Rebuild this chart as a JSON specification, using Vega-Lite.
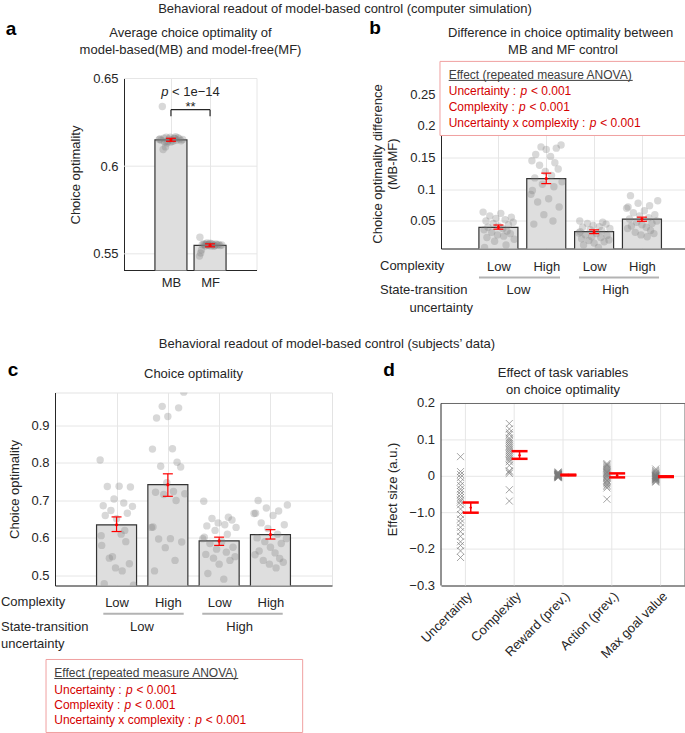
{
"$schema": "https://vega.github.io/schema/vega-lite/v6.json",
"autosize": {"type": "pad"},
"padding": {"left": 0, "top": 2.5, "right": 0, "bottom": 0},
"background": "white",
"config": {
  "font": "Liberation Sans",
  "view": {"stroke": null},
  "scale": {"continuousPadding": 0},
  "axis": {"labelFont": "Liberation Sans", "titleFont": "Liberation Sans", "labelFontSize": 13, "titleFontSize": 13, "titleFontWeight": "normal", "labelColor": "#262626", "titleColor": "#262626", "domainColor": "#262626", "gridColor": "#e6e6e6", "ticks": false, "labelPadding": 6, "titlePadding": 9, "labelFlush": false, "labelOverlap": false, "labelSeparation": 0, "zindex": 0},
  "text": {"font": "Liberation Sans", "fontSize": 13, "color": "#262626"}
},
"datasets": {
  "a_sum": [{"g": "MB", "x": 1, "m": 0.615, "lo": 0.6142, "hi": 0.6159}, {"g": "MF", "x": 2, "m": 0.5548, "lo": 0.554, "hi": 0.5557}],
  "a_pts": [
    {"g":"MB","x":0.78,"v":0.634},{"g":"MB","x":0.8,"v":0.6095},{"g":"MB","x":0.86,"v":0.611},{"g":"MB","x":0.72,"v":0.6155},{"g":"MB","x":0.75,"v":0.6148},{"g":"MB","x":0.82,"v":0.616},{"g":"MB","x":0.88,"v":0.6165},{"g":"MB","x":0.92,"v":0.6142},{"g":"MB","x":0.95,"v":0.6155},{"g":"MB","x":0.98,"v":0.6165},{"g":"MB","x":1.02,"v":0.615},{"g":"MB","x":1.05,"v":0.6142},{"g":"MB","x":1.08,"v":0.616},{"g":"MB","x":1.1,"v":0.6158},{"g":"MB","x":1.14,"v":0.6148},{"g":"MB","x":1.18,"v":0.6162},{"g":"MB","x":1.22,"v":0.6155},{"g":"MB","x":1.26,"v":0.6145},{"g":"MB","x":1.3,"v":0.6152},{"g":"MB","x":0.9,"v":0.6132},{"g":"MB","x":1.0,"v":0.6138},{"g":"MB","x":0.84,"v":0.6138},{"g":"MB","x":1.12,"v":0.6168},{"g":"MB","x":0.7,"v":0.6152},
    {"g":"MF","x":1.74,"v":0.5595},{"g":"MF","x":1.78,"v":0.5522},{"g":"MF","x":1.76,"v":0.5505},{"g":"MF","x":1.73,"v":0.5487},{"g":"MF","x":1.8,"v":0.5552},{"g":"MF","x":1.84,"v":0.5558},{"g":"MF","x":1.88,"v":0.5545},{"g":"MF","x":1.92,"v":0.5562},{"g":"MF","x":1.95,"v":0.555},{"g":"MF","x":1.98,"v":0.5555},{"g":"MF","x":2.02,"v":0.5545},{"g":"MF","x":2.05,"v":0.5558},{"g":"MF","x":2.08,"v":0.5552},{"g":"MF","x":2.12,"v":0.5548},{"g":"MF","x":2.15,"v":0.5556},{"g":"MF","x":2.18,"v":0.555},{"g":"MF","x":2.22,"v":0.5553},{"g":"MF","x":2.26,"v":0.5547},{"g":"MF","x":2.3,"v":0.555},{"g":"MF","x":1.86,"v":0.5552},{"g":"MF","x":1.9,"v":0.5555},{"g":"MF","x":2.0,"v":0.556},{"g":"MF","x":2.1,"v":0.5543},{"g":"MF","x":1.96,"v":0.5548}
  ],
  "a_brk": [{"x": 1, "x2": 2, "y": 0.6322, "y2": 0.6322}, {"x": 1, "x2": 1, "y": 0.6322, "y2": 0.6285}, {"x": 2, "x2": 2, "y": 0.6322, "y2": 0.6285}],
  "a_frame": [
    {"k": "light", "x": -0.2, "x2": 3.2, "y": 0.55, "y2": 0.55},
    {"k": "light", "x": -0.2, "x2": 3.2, "y": 0.6, "y2": 0.6},
    {"k": "light", "x": -0.2, "x2": 3.2, "y": 0.65, "y2": 0.65},
    {"k": "light", "x": 3.2, "x2": 3.2, "y": 0.5405, "y2": 0.65},
    {"k": "dark", "x": -0.2, "x2": 3.2, "y": 0.5405, "y2": 0.5405}
  ],
  "a_txt": [
    {"k": "p", "t": "p", "x": 0.751, "y": 0.6422},
    {"k": "n", "t": "< 1e−14", "x": 1.027, "y": 0.6422},
    {"k": "c", "t": "**", "x": 1.5, "y": 0.634},
    {"k": "c", "t": "Average choice optimality of", "x": 1.5, "y": 0.6757},
    {"k": "c", "t": "model-based(MB) and model-free(MF)", "x": 1.5, "y": 0.666},
    {"k": "letter", "t": "a", "x": -3.09, "y": 0.6785},
    {"k": "c", "t": "Behavioral readout of model-based control (computer simulation)", "x": 5.449, "y": 0.6894}
  ],
  "b_sum": [{"g": "LL", "x": 1, "m": 0.040, "lo": 0.037, "hi": 0.0436}, {"g": "LH", "x": 2, "m": 0.117, "lo": 0.109, "hi": 0.1255}, {"g": "HL", "x": 3, "m": 0.033, "lo": 0.030, "hi": 0.036}, {"g": "HH", "x": 4, "m": 0.053, "lo": 0.0495, "hi": 0.056}],
  "b_pts": [
    {"g":"LL","x":0.68,"v":0.064},{"g":"LL","x":1.05,"v":0.062},{"g":"LL","x":0.82,"v":0.058},{"g":"LL","x":1.27,"v":0.056},{"g":"LL","x":0.95,"v":0.054},{"g":"LL","x":1.14,"v":0.052},{"g":"LL","x":0.74,"v":0.05},{"g":"LL","x":1.31,"v":0.048},{"g":"LL","x":0.89,"v":0.046},{"g":"LL","x":1.21,"v":0.044},{"g":"LL","x":1.0,"v":0.042},{"g":"LL","x":0.78,"v":0.040},{"g":"LL","x":1.09,"v":0.038},{"g":"LL","x":0.7,"v":0.036},{"g":"LL","x":1.18,"v":0.034},{"g":"LL","x":0.86,"v":0.032},{"g":"LL","x":1.25,"v":0.030},{"g":"LL","x":0.98,"v":0.028},{"g":"LL","x":1.11,"v":0.026},{"g":"LL","x":0.76,"v":0.024},{"g":"LL","x":1.33,"v":0.021},{"g":"LL","x":0.92,"v":0.018},{"g":"LL","x":1.16,"v":0.012},{"g":"LL","x":0.71,"v":0.008},
    {"g":"LH","x":2.31,"v":0.170},{"g":"LH","x":1.89,"v":0.167},{"g":"LH","x":2.21,"v":0.165},{"g":"LH","x":2.0,"v":0.163},{"g":"LH","x":1.78,"v":0.155},{"g":"LH","x":2.09,"v":0.152},{"g":"LH","x":1.7,"v":0.145},{"g":"LH","x":2.18,"v":0.142},{"g":"LH","x":1.86,"v":0.138},{"g":"LH","x":2.25,"v":0.132},{"g":"LH","x":1.98,"v":0.128},{"g":"LH","x":2.11,"v":0.122},{"g":"LH","x":1.76,"v":0.118},{"g":"LH","x":2.33,"v":0.112},{"g":"LH","x":1.92,"v":0.108},{"g":"LH","x":2.16,"v":0.104},{"g":"LH","x":1.71,"v":0.098},{"g":"LH","x":1.68,"v":0.092},{"g":"LH","x":2.05,"v":0.085},{"g":"LH","x":1.82,"v":0.08},{"g":"LH","x":2.27,"v":0.072},{"g":"LH","x":1.95,"v":0.06},{"g":"LH","x":2.14,"v":0.05},{"g":"LH","x":1.74,"v":0.045},
    {"g":"HL","x":2.7,"v":0.05},{"g":"HL","x":3.18,"v":0.048},{"g":"HL","x":2.86,"v":0.046},{"g":"HL","x":3.25,"v":0.045},{"g":"HL","x":2.98,"v":0.043},{"g":"HL","x":3.11,"v":0.041},{"g":"HL","x":2.76,"v":0.04},{"g":"HL","x":3.33,"v":0.038},{"g":"HL","x":2.92,"v":0.036},{"g":"HL","x":3.16,"v":0.035},{"g":"HL","x":2.71,"v":0.033},{"g":"HL","x":2.68,"v":0.031},{"g":"HL","x":3.05,"v":0.03},{"g":"HL","x":2.82,"v":0.028},{"g":"HL","x":3.27,"v":0.027},{"g":"HL","x":2.95,"v":0.025},{"g":"HL","x":3.14,"v":0.024},{"g":"HL","x":2.74,"v":0.022},{"g":"HL","x":3.31,"v":0.02},{"g":"HL","x":2.89,"v":0.019},{"g":"HL","x":3.21,"v":0.017},{"g":"HL","x":3.0,"v":0.015},{"g":"HL","x":2.78,"v":0.012},{"g":"HL","x":3.09,"v":0.008},
    {"g":"HH","x":3.76,"v":0.09},{"g":"HH","x":4.33,"v":0.082},{"g":"HH","x":3.92,"v":0.078},{"g":"HH","x":4.16,"v":0.074},{"g":"HH","x":3.71,"v":0.072},{"g":"HH","x":3.68,"v":0.07},{"g":"HH","x":4.05,"v":0.066},{"g":"HH","x":3.82,"v":0.063},{"g":"HH","x":4.27,"v":0.06},{"g":"HH","x":3.95,"v":0.058},{"g":"HH","x":4.14,"v":0.055},{"g":"HH","x":3.74,"v":0.053},{"g":"HH","x":4.31,"v":0.05},{"g":"HH","x":3.89,"v":0.048},{"g":"HH","x":4.21,"v":0.046},{"g":"HH","x":4.0,"v":0.044},{"g":"HH","x":3.78,"v":0.042},{"g":"HH","x":4.09,"v":0.04},{"g":"HH","x":3.7,"v":0.038},{"g":"HH","x":4.18,"v":0.035},{"g":"HH","x":3.86,"v":0.032},{"g":"HH","x":4.25,"v":0.03},{"g":"HH","x":3.98,"v":0.028},{"g":"HH","x":4.11,"v":0.025}
  ],
  "b_txt": [
    {"k": "row", "t": "Complexity", "x": -1.475, "y": -0.0219},
    {"k": "row", "t": "State-transition", "x": -1.475, "y": -0.0598},
    {"k": "rowr", "t": "uncertainty", "x": 0.469, "y": -0.0867},
    {"k": "unc", "t": "Low", "x": 1.42, "y": -0.0598},
    {"k": "unc", "t": "High", "x": 3.45, "y": -0.0598},
    {"k": "unc", "t": "Difference in choice optimality between", "x": 2.3, "y": 0.3462},
    {"k": "unc", "t": "MB and MF control", "x": 2.35, "y": 0.3193},
    {"k": "hdr", "t": "Effect (repeated measure ANOVA)", "x": -0.039, "y": 0.2798},
    {"k": "redr", "t": "Uncertainty :", "x": 1.37, "y": 0.2545},
    {"k": "redp", "t": "p", "x": 1.46, "y": 0.2545},
    {"k": "red", "t": "< 0.001", "x": 1.679, "y": 0.2545},
    {"k": "redr", "t": "Complexity :", "x": 1.341, "y": 0.2293},
    {"k": "redp", "t": "p", "x": 1.43, "y": 0.2293},
    {"k": "red", "t": "< 0.001", "x": 1.65, "y": 0.2293},
    {"k": "redr", "t": "Uncertainty x complexity :", "x": 2.818, "y": 0.204},
    {"k": "redp", "t": "p", "x": 2.908, "y": 0.204},
    {"k": "red", "t": "< 0.001", "x": 3.128, "y": 0.204},
    {"k": "letter", "t": "b", "x": -1.58, "y": 0.354}
  ],
  "b_box": [{"x": -0.221, "x2": 4.9, "y": 0.302, "y2": 0.185}],
  "b_lines": [{"k": "grp", "x": 0.594, "x2": 2.287, "y": -0.0393}, {"k": "grp", "x": 2.685, "x2": 4.357, "y": -0.0393}, {"k": "ul", "x": -0.039, "x2": 3.807, "y": 0.272}],
  "c_sum": [{"g": "LL", "x": 1, "m": 0.635, "lo": 0.617, "hi": 0.656}, {"g": "LH", "x": 2, "m": 0.742, "lo": 0.711, "hi": 0.771}, {"g": "HL", "x": 3, "m": 0.592, "lo": 0.580, "hi": 0.602}, {"g": "HH", "x": 4, "m": 0.609, "lo": 0.597, "hi": 0.622}],
  "c_pts": [
    {"g":"LL","x":0.68,"v":0.808},{"g":"LL","x":1.05,"v":0.738},{"g":"LL","x":0.82,"v":0.737},{"g":"LL","x":1.27,"v":0.736},{"g":"LL","x":0.95,"v":0.704},{"g":"LL","x":1.14,"v":0.693},{"g":"LL","x":0.74,"v":0.686},{"g":"LL","x":1.31,"v":0.684},{"g":"LL","x":0.89,"v":0.673},{"g":"LL","x":1.21,"v":0.666},{"g":"LL","x":1.0,"v":0.651},{"g":"LL","x":0.78,"v":0.66},{"g":"LL","x":1.09,"v":0.61},{"g":"LL","x":0.7,"v":0.606},{"g":"LL","x":1.18,"v":0.59},{"g":"LL","x":0.86,"v":0.546},{"g":"LL","x":1.25,"v":0.531},{"g":"LL","x":0.98,"v":0.52},{"g":"LL","x":1.11,"v":0.512},{"g":"LL","x":0.76,"v":0.478},{"g":"LL","x":1.33,"v":0.474},{"g":"LL","x":0.92,"v":0.55},{"g":"LL","x":1.16,"v":0.62},{"g":"LL","x":0.71,"v":0.58},
    {"g":"LH","x":2.31,"v":0.989},{"g":"LH","x":1.89,"v":0.951},{"g":"LH","x":2.21,"v":0.947},{"g":"LH","x":2.0,"v":0.924},{"g":"LH","x":1.78,"v":0.92},{"g":"LH","x":2.09,"v":0.838},{"g":"LH","x":1.7,"v":0.837},{"g":"LH","x":2.18,"v":0.802},{"g":"LH","x":1.86,"v":0.791},{"g":"LH","x":2.25,"v":0.789},{"g":"LH","x":1.98,"v":0.747},{"g":"LH","x":2.11,"v":0.724},{"g":"LH","x":1.76,"v":0.722},{"g":"LH","x":2.33,"v":0.718},{"g":"LH","x":1.92,"v":0.716},{"g":"LH","x":2.16,"v":0.70},{"g":"LH","x":1.71,"v":0.629},{"g":"LH","x":1.68,"v":0.628},{"g":"LH","x":2.05,"v":0.598},{"g":"LH","x":1.82,"v":0.597},{"g":"LH","x":2.27,"v":0.589},{"g":"LH","x":1.95,"v":0.574},{"g":"LH","x":2.14,"v":0.54},{"g":"LH","x":1.74,"v":0.512},
    {"g":"HL","x":2.7,"v":0.698},{"g":"HL","x":3.18,"v":0.655},{"g":"HL","x":2.86,"v":0.652},{"g":"HL","x":3.25,"v":0.648},{"g":"HL","x":2.98,"v":0.64},{"g":"HL","x":3.11,"v":0.635},{"g":"HL","x":2.76,"v":0.632},{"g":"HL","x":3.33,"v":0.628},{"g":"HL","x":2.92,"v":0.62},{"g":"HL","x":3.16,"v":0.61},{"g":"HL","x":2.71,"v":0.602},{"g":"HL","x":2.68,"v":0.598},{"g":"HL","x":3.05,"v":0.59},{"g":"HL","x":2.82,"v":0.585},{"g":"HL","x":3.27,"v":0.575},{"g":"HL","x":2.95,"v":0.57},{"g":"HL","x":3.14,"v":0.562},{"g":"HL","x":2.74,"v":0.556},{"g":"HL","x":3.31,"v":0.55},{"g":"HL","x":2.89,"v":0.546},{"g":"HL","x":3.21,"v":0.54},{"g":"HL","x":3.0,"v":0.53},{"g":"HL","x":2.78,"v":0.505},{"g":"HL","x":3.09,"v":0.49},
    {"g":"HH","x":3.76,"v":0.70},{"g":"HH","x":4.33,"v":0.688},{"g":"HH","x":3.92,"v":0.68},{"g":"HH","x":4.16,"v":0.672},{"g":"HH","x":3.71,"v":0.666},{"g":"HH","x":3.68,"v":0.665},{"g":"HH","x":4.05,"v":0.66},{"g":"HH","x":3.82,"v":0.64},{"g":"HH","x":4.27,"v":0.635},{"g":"HH","x":3.95,"v":0.625},{"g":"HH","x":4.14,"v":0.61},{"g":"HH","x":3.74,"v":0.60},{"g":"HH","x":4.31,"v":0.598},{"g":"HH","x":3.89,"v":0.59},{"g":"HH","x":4.21,"v":0.585},{"g":"HH","x":4.0,"v":0.575},{"g":"HH","x":3.78,"v":0.565},{"g":"HH","x":4.09,"v":0.56},{"g":"HH","x":3.7,"v":0.555},{"g":"HH","x":4.18,"v":0.545},{"g":"HH","x":3.86,"v":0.54},{"g":"HH","x":4.25,"v":0.535},{"g":"HH","x":3.98,"v":0.53},{"g":"HH","x":4.11,"v":0.52}
  ],
  "c_txt": [
    {"k": "row", "t": "Complexity", "x": -1.253, "y": 0.4284},
    {"k": "row", "t": "State-transition", "x": -1.253, "y": 0.3617},
    {"k": "row", "t": "uncertainty", "x": -1.253, "y": 0.3174},
    {"k": "unc", "t": "Low", "x": 1.496, "y": 0.3617},
    {"k": "unc", "t": "High", "x": 3.40, "y": 0.3617},
    {"k": "unc", "t": "Choice optimality", "x": 2.5, "y": 1.0386},
    {"k": "unc", "t": "Behavioral readout of model-based control (subjects’ data)", "x": 5.102, "y": 1.1187},
    {"k": "hdr", "t": "Effect (repeated measure ANOVA)", "x": -0.214, "y": 0.239},
    {"k": "redr", "t": "Uncertainty :", "x": 1.1, "y": 0.1947},
    {"k": "redp", "t": "p", "x": 1.184, "y": 0.1947},
    {"k": "red", "t": "< 0.001", "x": 1.389, "y": 0.1947},
    {"k": "redr", "t": "Complexity :", "x": 1.073, "y": 0.1528},
    {"k": "redp", "t": "p", "x": 1.157, "y": 0.1528},
    {"k": "red", "t": "< 0.001", "x": 1.361, "y": 0.1528},
    {"k": "redr", "t": "Uncertainty x complexity :", "x": 2.451, "y": 0.1128},
    {"k": "redp", "t": "p", "x": 2.535, "y": 0.1128},
    {"k": "red", "t": "< 0.001", "x": 2.74, "y": 0.1128},
    {"k": "letter", "t": "c", "x": -1.019, "y": 1.047}
  ],
  "c_box": [{"x": -0.375, "x2": 4.628, "y": 0.2756, "y2": 0.0808}],
  "c_lines": [{"k": "grp", "x": 0.742, "x2": 2.309, "y": 0.3975}, {"k": "grp", "x": 2.671, "x2": 4.239, "y": 0.3975}, {"k": "ul", "x": -0.214, "x2": 3.373, "y": 0.2249}],
  "d_pts": [
    {"var":"Uncertainty","x":0.9,"v":0.054},{"var":"Uncertainty","x":0.9,"v":0.013},{"var":"Uncertainty","x":0.9,"v":0.005},{"var":"Uncertainty","x":0.9,"v":-0.003},{"var":"Uncertainty","x":0.9,"v":-0.015},{"var":"Uncertainty","x":0.9,"v":-0.025},{"var":"Uncertainty","x":0.9,"v":-0.035},{"var":"Uncertainty","x":0.9,"v":-0.042},{"var":"Uncertainty","x":0.9,"v":-0.05},{"var":"Uncertainty","x":0.9,"v":-0.058},{"var":"Uncertainty","x":0.9,"v":-0.065},{"var":"Uncertainty","x":0.9,"v":-0.07},{"var":"Uncertainty","x":0.9,"v":-0.078},{"var":"Uncertainty","x":0.9,"v":-0.09},{"var":"Uncertainty","x":0.9,"v":-0.105},{"var":"Uncertainty","x":0.9,"v":-0.118},{"var":"Uncertainty","x":0.9,"v":-0.128},{"var":"Uncertainty","x":0.9,"v":-0.14},{"var":"Uncertainty","x":0.9,"v":-0.152},{"var":"Uncertainty","x":0.9,"v":-0.165},{"var":"Uncertainty","x":0.9,"v":-0.18},{"var":"Uncertainty","x":0.9,"v":-0.19},{"var":"Uncertainty","x":0.9,"v":-0.205},{"var":"Uncertainty","x":0.9,"v":-0.223},
    {"var":"Complexity","x":1.9,"v":0.145},{"var":"Complexity","x":1.9,"v":0.13},{"var":"Complexity","x":1.9,"v":0.12},{"var":"Complexity","x":1.9,"v":0.115},{"var":"Complexity","x":1.9,"v":0.105},{"var":"Complexity","x":1.9,"v":0.1},{"var":"Complexity","x":1.9,"v":0.095},{"var":"Complexity","x":1.9,"v":0.09},{"var":"Complexity","x":1.9,"v":0.085},{"var":"Complexity","x":1.9,"v":0.08},{"var":"Complexity","x":1.9,"v":0.075},{"var":"Complexity","x":1.9,"v":0.07},{"var":"Complexity","x":1.9,"v":0.065},{"var":"Complexity","x":1.9,"v":0.06},{"var":"Complexity","x":1.9,"v":0.055},{"var":"Complexity","x":1.9,"v":0.05},{"var":"Complexity","x":1.9,"v":0.045},{"var":"Complexity","x":1.9,"v":0.04},{"var":"Complexity","x":1.9,"v":0.03},{"var":"Complexity","x":1.9,"v":0.015},{"var":"Complexity","x":1.9,"v":0.012},{"var":"Complexity","x":1.9,"v":0.008},{"var":"Complexity","x":1.9,"v":-0.037},{"var":"Complexity","x":1.9,"v":-0.068},
    {"var":"Reward (prev.)","x":2.9,"v":0.012},{"var":"Reward (prev.)","x":2.9,"v":0.01},{"var":"Reward (prev.)","x":2.9,"v":0.009},{"var":"Reward (prev.)","x":2.9,"v":0.008},{"var":"Reward (prev.)","x":2.9,"v":0.007},{"var":"Reward (prev.)","x":2.9,"v":0.006},{"var":"Reward (prev.)","x":2.9,"v":0.0055},{"var":"Reward (prev.)","x":2.9,"v":0.005},{"var":"Reward (prev.)","x":2.9,"v":0.0045},{"var":"Reward (prev.)","x":2.9,"v":0.004},{"var":"Reward (prev.)","x":2.9,"v":0.0035},{"var":"Reward (prev.)","x":2.9,"v":0.003},{"var":"Reward (prev.)","x":2.9,"v":0.0025},{"var":"Reward (prev.)","x":2.9,"v":0.002},{"var":"Reward (prev.)","x":2.9,"v":0.0015},{"var":"Reward (prev.)","x":2.9,"v":0.001},{"var":"Reward (prev.)","x":2.9,"v":0.0005},{"var":"Reward (prev.)","x":2.9,"v":0.0},{"var":"Reward (prev.)","x":2.9,"v":-0.0005},{"var":"Reward (prev.)","x":2.9,"v":-0.001},{"var":"Reward (prev.)","x":2.9,"v":-0.0015},{"var":"Reward (prev.)","x":2.9,"v":-0.002},{"var":"Reward (prev.)","x":2.9,"v":-0.003},{"var":"Reward (prev.)","x":2.9,"v":-0.004},
    {"var":"Action (prev.)","x":3.9,"v":0.035},{"var":"Action (prev.)","x":3.9,"v":0.032},{"var":"Action (prev.)","x":3.9,"v":0.03},{"var":"Action (prev.)","x":3.9,"v":0.027},{"var":"Action (prev.)","x":3.9,"v":0.024},{"var":"Action (prev.)","x":3.9,"v":0.021},{"var":"Action (prev.)","x":3.9,"v":0.018},{"var":"Action (prev.)","x":3.9,"v":0.015},{"var":"Action (prev.)","x":3.9,"v":0.012},{"var":"Action (prev.)","x":3.9,"v":0.01},{"var":"Action (prev.)","x":3.9,"v":0.008},{"var":"Action (prev.)","x":3.9,"v":0.005},{"var":"Action (prev.)","x":3.9,"v":0.003},{"var":"Action (prev.)","x":3.9,"v":0.0},{"var":"Action (prev.)","x":3.9,"v":-0.003},{"var":"Action (prev.)","x":3.9,"v":-0.006},{"var":"Action (prev.)","x":3.9,"v":-0.01},{"var":"Action (prev.)","x":3.9,"v":-0.013},{"var":"Action (prev.)","x":3.9,"v":-0.017},{"var":"Action (prev.)","x":3.9,"v":-0.02},{"var":"Action (prev.)","x":3.9,"v":-0.024},{"var":"Action (prev.)","x":3.9,"v":-0.028},{"var":"Action (prev.)","x":3.9,"v":-0.032},{"var":"Action (prev.)","x":3.9,"v":-0.063},
    {"var":"Max goal value","x":4.9,"v":0.02},{"var":"Max goal value","x":4.9,"v":0.016},{"var":"Max goal value","x":4.9,"v":0.013},{"var":"Max goal value","x":4.9,"v":0.01},{"var":"Max goal value","x":4.9,"v":0.008},{"var":"Max goal value","x":4.9,"v":0.006},{"var":"Max goal value","x":4.9,"v":0.004},{"var":"Max goal value","x":4.9,"v":0.003},{"var":"Max goal value","x":4.9,"v":0.002},{"var":"Max goal value","x":4.9,"v":0.001},{"var":"Max goal value","x":4.9,"v":0.0},{"var":"Max goal value","x":4.9,"v":-0.001},{"var":"Max goal value","x":4.9,"v":-0.002},{"var":"Max goal value","x":4.9,"v":-0.003},{"var":"Max goal value","x":4.9,"v":-0.004},{"var":"Max goal value","x":4.9,"v":-0.005},{"var":"Max goal value","x":4.9,"v":-0.006},{"var":"Max goal value","x":4.9,"v":-0.007},{"var":"Max goal value","x":4.9,"v":-0.008},{"var":"Max goal value","x":4.9,"v":-0.009},{"var":"Max goal value","x":4.9,"v":-0.01},{"var":"Max goal value","x":4.9,"v":-0.012},{"var":"Max goal value","x":4.9,"v":-0.014},{"var":"Max goal value","x":4.9,"v":-0.016}
  ],
  "d_sum": [{"var": "Uncertainty", "x": 1.11, "m": -0.086, "lo": -0.1, "hi": -0.072}, {"var": "Complexity", "x": 2.11, "m": 0.058, "lo": 0.048, "hi": 0.069}, {"var": "Reward (prev.)", "x": 3.11, "m": 0.0035, "lo": 0.0025, "hi": 0.0045}, {"var": "Action (prev.)", "x": 4.11, "m": 0.003, "lo": -0.003, "hi": 0.008}, {"var": "Max goal value", "x": 5.11, "m": -0.001, "lo": -0.002, "hi": 0.0}],
  "d_frame": [
    {"k": "grid", "x": 1, "x2": 1, "y": -0.3, "y2": 0.2}, {"k": "grid", "x": 2, "x2": 2, "y": -0.3, "y2": 0.2}, {"k": "grid", "x": 3, "x2": 3, "y": -0.3, "y2": 0.2}, {"k": "grid", "x": 4, "x2": 4, "y": -0.3, "y2": 0.2}, {"k": "grid", "x": 5, "x2": 5, "y": -0.3, "y2": 0.2},
    {"k": "grid", "x": 0.5, "x2": 5.5, "y": 0.1, "y2": 0.1}, {"k": "grid", "x": 0.5, "x2": 5.5, "y": 0, "y2": 0}, {"k": "grid", "x": 0.5, "x2": 5.5, "y": -0.1, "y2": -0.1}, {"k": "grid", "x": 0.5, "x2": 5.5, "y": -0.2, "y2": -0.2},
    {"k": "box", "x": 0.5, "x2": 5.5, "y": 0.2, "y2": 0.2}, {"k": "box", "x": 5.5, "x2": 5.5, "y": -0.3, "y2": 0.2},
    {"k": "axis", "x": 0.5, "x2": 0.5, "y": -0.3, "y2": 0.2}
  ],
  "d_ylab": [{"t": "0.2", "y": 0.2}, {"t": "0.1", "y": 0.1}, {"t": "0", "y": 0}, {"t": "−1.0", "y": -0.1}, {"t": "−0.2", "y": -0.2}, {"t": "−0.3", "y": -0.3}],
  "d_txt": [
    {"k": "letter", "t": "d", "x": -0.566, "y": 0.2907},
    {"k": "c", "t": "Effect of task variables", "x": 3.0, "y": 0.2824},
    {"k": "c", "t": "on choice optimality", "x": 3.0, "y": 0.2357}
  ]
},
"bounds": "flush",
"columns": 2,
"spacing": {"row": 122, "column": 109},
"concat": [
  {
    "width": 202, "height": 192,
    "layer": [
      {"data": {"name": "a_frame"}, "transform": [{"filter": "datum.k == 'light'"}], "mark": {"type": "rule", "color": "#e6e6e6", "strokeWidth": 1},
       "encoding": {
         "x": {"field": "x", "type": "quantitative", "scale": {"domain": [-1.964, 3.2], "nice": false, "zero": false, "padding": 0}, "axis": {"values": [1, 2], "labelExpr": "datum.value == 1 ? 'MB' : 'MF'", "title": null, "grid": true, "domain": false, "labelPadding": 6}},
         "x2": {"field": "x2"},
         "y": {"field": "y", "type": "quantitative", "scale": {"domain": [0.5405, 0.65], "nice": false, "zero": false, "padding": 0}, "axis": {"values": [0.55, 0.6, 0.65], "format": "~g", "title": "Choice optimality", "grid": false, "offset": -69, "titlePadding": 10}},
         "y2": {"field": "y2"}}},
      {"data": {"name": "a_frame"}, "transform": [{"filter": "datum.k == 'dark'"}], "mark": {"type": "rule", "color": "#262626", "strokeWidth": 1},
       "encoding": {"x": {"field": "x", "type": "quantitative"}, "x2": {"field": "x2"}, "y": {"field": "y", "type": "quantitative"}, "y2": {"field": "y2"}}},
      {"data": {"name": "a_sum"}, "mark": {"type": "bar", "size": 32, "fill": "#dedede", "stroke": "#333333", "strokeWidth": 1.2, "opacity": 1, "clip": true},
       "encoding": {"x": {"field": "x", "type": "quantitative"}, "y": {"field": "m", "type": "quantitative"}}},
      {"data": {"name": "a_pts"}, "mark": {"type": "circle", "size": 55, "color": "#7f7f7f", "opacity": 0.3, "clip": true},
       "encoding": {"x": {"field": "x", "type": "quantitative"}, "y": {"field": "v", "type": "quantitative"}}},
      {"data": {"name": "a_sum"}, "mark": {"type": "rule", "color": "#ff0000", "strokeWidth": 1.2},
       "encoding": {"x": {"field": "x", "type": "quantitative"}, "y": {"field": "lo", "type": "quantitative"}, "y2": {"field": "hi"}}},
      {"data": {"name": "a_sum"}, "mark": {"type": "tick", "orient": "horizontal", "color": "#ff0000", "size": 10, "thickness": 1.2, "opacity": 1},
       "encoding": {"x": {"field": "x", "type": "quantitative"}, "y": {"field": "lo", "type": "quantitative"}}},
      {"data": {"name": "a_sum"}, "mark": {"type": "tick", "orient": "horizontal", "color": "#ff0000", "size": 10, "thickness": 1.2, "opacity": 1},
       "encoding": {"x": {"field": "x", "type": "quantitative"}, "y": {"field": "hi", "type": "quantitative"}}},
      {"data": {"name": "a_sum"}, "mark": {"type": "circle", "color": "#ff0000", "size": 10, "opacity": 1},
       "encoding": {"x": {"field": "x", "type": "quantitative"}, "y": {"field": "m", "type": "quantitative"}}},
      {"data": {"name": "a_brk"}, "mark": {"type": "rule", "color": "#262626", "strokeWidth": 1.2},
       "encoding": {"x": {"field": "x", "type": "quantitative"}, "x2": {"field": "x2"}, "y": {"field": "y", "type": "quantitative"}, "y2": {"field": "y2"}}},
      {"data": {"name": "a_txt"}, "transform": [{"filter": "datum.k == 'p'"}], "mark": {"type": "text", "fontStyle": "italic", "align": "left", "baseline": "middle"},
       "encoding": {"x": {"field": "x", "type": "quantitative"}, "y": {"field": "y", "type": "quantitative"}, "text": {"field": "t"}}},
      {"data": {"name": "a_txt"}, "transform": [{"filter": "datum.k == 'n'"}], "mark": {"type": "text", "align": "left", "baseline": "middle"},
       "encoding": {"x": {"field": "x", "type": "quantitative"}, "y": {"field": "y", "type": "quantitative"}, "text": {"field": "t"}}},
      {"data": {"name": "a_txt"}, "transform": [{"filter": "datum.k == 'c'"}], "mark": {"type": "text", "align": "center", "baseline": "middle"},
       "encoding": {"x": {"field": "x", "type": "quantitative"}, "y": {"field": "y", "type": "quantitative"}, "text": {"field": "t"}}},
      {"data": {"name": "a_txt"}, "transform": [{"filter": "datum.k == 'letter'"}], "mark": {"type": "text", "align": "center", "baseline": "middle", "fontSize": 19, "fontWeight": "bold", "color": "#000000"},
       "encoding": {"x": {"field": "x", "type": "quantitative"}, "y": {"field": "y", "type": "quantitative"}, "text": {"field": "t"}}}
    ]
  },
  {
    "width": 244, "height": 170,
    "view": {"stroke": "#e3e3e3"},
    "layer": [
      {"data": {"name": "b_sum"}, "mark": {"type": "bar", "size": 39, "fill": "#dedede", "stroke": "#333333", "strokeWidth": 1.2, "opacity": 1, "clip": true},
       "encoding": {
         "x": {"field": "x", "type": "quantitative", "scale": {"domain": [-0.2, 4.9], "nice": false, "zero": false, "padding": 0}, "axis": {"values": [1, 2, 3, 4], "labelExpr": "datum.value % 2 == 1 ? 'Low' : 'High'", "title": null, "grid": true, "labelPadding": 12}},
         "y": {"field": "m", "type": "quantitative", "scale": {"domain": [0.0065, 0.275], "nice": false, "zero": false, "padding": 0}, "axis": {"values": [0.05, 0.1, 0.15, 0.2, 0.25], "format": "~g", "title": ["Choice optimality difference", "(MB-MF)"], "titleLineHeight": 15, "grid": true, "titlePadding": 10}}}},
      {"data": {"name": "b_pts"}, "mark": {"type": "circle", "size": 55, "color": "#7f7f7f", "opacity": 0.3, "clip": true},
       "encoding": {"x": {"field": "x", "type": "quantitative"}, "y": {"field": "v", "type": "quantitative"}}},
      {"data": {"name": "b_sum"}, "mark": {"type": "rule", "color": "#ff0000", "strokeWidth": 1.2},
       "encoding": {"x": {"field": "x", "type": "quantitative"}, "y": {"field": "lo", "type": "quantitative"}, "y2": {"field": "hi"}}},
      {"data": {"name": "b_sum"}, "mark": {"type": "tick", "orient": "horizontal", "color": "#ff0000", "size": 10, "thickness": 1.2, "opacity": 1},
       "encoding": {"x": {"field": "x", "type": "quantitative"}, "y": {"field": "lo", "type": "quantitative"}}},
      {"data": {"name": "b_sum"}, "mark": {"type": "tick", "orient": "horizontal", "color": "#ff0000", "size": 10, "thickness": 1.2, "opacity": 1},
       "encoding": {"x": {"field": "x", "type": "quantitative"}, "y": {"field": "hi", "type": "quantitative"}}},
      {"data": {"name": "b_sum"}, "mark": {"type": "circle", "color": "#ff0000", "size": 10, "opacity": 1},
       "encoding": {"x": {"field": "x", "type": "quantitative"}, "y": {"field": "m", "type": "quantitative"}}},
      {"data": {"name": "b_box"}, "mark": {"type": "rect", "fill": "#ffffff", "stroke": "#f0a0a0", "strokeWidth": 1},
       "encoding": {"x": {"field": "x", "type": "quantitative"}, "x2": {"field": "x2"}, "y": {"field": "y", "type": "quantitative"}, "y2": {"field": "y2"}}},
      {"data": {"name": "b_lines"}, "transform": [{"filter": "datum.k == 'grp'"}], "mark": {"type": "rule", "color": "#b3b3b3", "strokeWidth": 2},
       "encoding": {"x": {"field": "x", "type": "quantitative"}, "x2": {"field": "x2"}, "y": {"field": "y", "type": "quantitative"}}},
      {"data": {"name": "b_lines"}, "transform": [{"filter": "datum.k == 'ul'"}], "mark": {"type": "rule", "color": "#404040", "strokeWidth": 1},
       "encoding": {"x": {"field": "x", "type": "quantitative"}, "x2": {"field": "x2"}, "y": {"field": "y", "type": "quantitative"}}},
      {"data": {"name": "b_txt"}, "transform": [{"filter": "datum.k == 'row'"}], "mark": {"type": "text", "align": "left", "baseline": "middle"},
       "encoding": {"x": {"field": "x", "type": "quantitative"}, "y": {"field": "y", "type": "quantitative"}, "text": {"field": "t"}}},
      {"data": {"name": "b_txt"}, "transform": [{"filter": "datum.k == 'rowr'"}], "mark": {"type": "text", "align": "right", "baseline": "middle"},
       "encoding": {"x": {"field": "x", "type": "quantitative"}, "y": {"field": "y", "type": "quantitative"}, "text": {"field": "t"}}},
      {"data": {"name": "b_txt"}, "transform": [{"filter": "datum.k == 'unc'"}], "mark": {"type": "text", "align": "center", "baseline": "middle"},
       "encoding": {"x": {"field": "x", "type": "quantitative"}, "y": {"field": "y", "type": "quantitative"}, "text": {"field": "t"}}},
      {"data": {"name": "b_txt"}, "transform": [{"filter": "datum.k == 'hdr'"}], "mark": {"type": "text", "align": "left", "baseline": "middle", "fontSize": 12, "color": "#404040"},
       "encoding": {"x": {"field": "x", "type": "quantitative"}, "y": {"field": "y", "type": "quantitative"}, "text": {"field": "t"}}},
      {"data": {"name": "b_txt"}, "transform": [{"filter": "datum.k == 'red'"}], "mark": {"type": "text", "align": "left", "baseline": "middle", "fontSize": 12, "color": "#d40000"},
       "encoding": {"x": {"field": "x", "type": "quantitative"}, "y": {"field": "y", "type": "quantitative"}, "text": {"field": "t"}}},
      {"data": {"name": "b_txt"}, "transform": [{"filter": "datum.k == 'redr'"}], "mark": {"type": "text", "align": "right", "baseline": "middle", "fontSize": 12, "color": "#d40000"},
       "encoding": {"x": {"field": "x", "type": "quantitative"}, "y": {"field": "y", "type": "quantitative"}, "text": {"field": "t"}}},
      {"data": {"name": "b_txt"}, "transform": [{"filter": "datum.k == 'redp'"}], "mark": {"type": "text", "align": "left", "baseline": "middle", "fontSize": 12, "fontStyle": "italic", "color": "#d40000"},
       "encoding": {"x": {"field": "x", "type": "quantitative"}, "y": {"field": "y", "type": "quantitative"}, "text": {"field": "t"}}},
      {"data": {"name": "b_txt"}, "transform": [{"filter": "datum.k == 'letter'"}], "mark": {"type": "text", "align": "center", "baseline": "middle", "fontSize": 19, "fontWeight": "bold", "color": "#000000"},
       "encoding": {"x": {"field": "x", "type": "quantitative"}, "y": {"field": "y", "type": "quantitative"}, "text": {"field": "t"}}}
    ]
  },
  {
    "width": 277, "height": 193,
    "view": {"stroke": "#e3e3e3"},
    "layer": [
      {"data": {"name": "c_sum"}, "mark": {"type": "bar", "size": 40, "fill": "#dedede", "stroke": "#333333", "strokeWidth": 1.2, "opacity": 1, "clip": true},
       "encoding": {
         "x": {"field": "x", "type": "quantitative", "scale": {"domain": [-0.2, 5.2], "nice": false, "zero": false, "padding": 0}, "axis": {"values": [1, 2, 3, 4], "labelExpr": "datum.value % 2 == 1 ? 'Low' : 'High'", "title": null, "grid": true, "labelPadding": 11}},
         "y": {"field": "m", "type": "quantitative", "scale": {"domain": [0.473, 0.988], "nice": false, "zero": false, "padding": 0}, "axis": {"values": [0.5, 0.6, 0.7, 0.8, 0.9], "format": "~g", "title": "Choice optimality", "grid": true, "titlePadding": 9}}}},
      {"data": {"name": "c_pts"}, "mark": {"type": "circle", "size": 55, "color": "#7f7f7f", "opacity": 0.3, "clip": true},
       "encoding": {"x": {"field": "x", "type": "quantitative"}, "y": {"field": "v", "type": "quantitative"}}},
      {"data": {"name": "c_sum"}, "mark": {"type": "rule", "color": "#ff0000", "strokeWidth": 1.2},
       "encoding": {"x": {"field": "x", "type": "quantitative"}, "y": {"field": "lo", "type": "quantitative"}, "y2": {"field": "hi"}}},
      {"data": {"name": "c_sum"}, "mark": {"type": "tick", "orient": "horizontal", "color": "#ff0000", "size": 10, "thickness": 1.2, "opacity": 1},
       "encoding": {"x": {"field": "x", "type": "quantitative"}, "y": {"field": "lo", "type": "quantitative"}}},
      {"data": {"name": "c_sum"}, "mark": {"type": "tick", "orient": "horizontal", "color": "#ff0000", "size": 10, "thickness": 1.2, "opacity": 1},
       "encoding": {"x": {"field": "x", "type": "quantitative"}, "y": {"field": "hi", "type": "quantitative"}}},
      {"data": {"name": "c_sum"}, "mark": {"type": "circle", "color": "#ff0000", "size": 10, "opacity": 1},
       "encoding": {"x": {"field": "x", "type": "quantitative"}, "y": {"field": "m", "type": "quantitative"}}},
      {"data": {"name": "c_box"}, "mark": {"type": "rect", "fill": "#ffffff", "stroke": "#f0a0a0", "strokeWidth": 1},
       "encoding": {"x": {"field": "x", "type": "quantitative"}, "x2": {"field": "x2"}, "y": {"field": "y", "type": "quantitative"}, "y2": {"field": "y2"}}},
      {"data": {"name": "c_lines"}, "transform": [{"filter": "datum.k == 'grp'"}], "mark": {"type": "rule", "color": "#b3b3b3", "strokeWidth": 2},
       "encoding": {"x": {"field": "x", "type": "quantitative"}, "x2": {"field": "x2"}, "y": {"field": "y", "type": "quantitative"}}},
      {"data": {"name": "c_lines"}, "transform": [{"filter": "datum.k == 'ul'"}], "mark": {"type": "rule", "color": "#404040", "strokeWidth": 1},
       "encoding": {"x": {"field": "x", "type": "quantitative"}, "x2": {"field": "x2"}, "y": {"field": "y", "type": "quantitative"}}},
      {"data": {"name": "c_txt"}, "transform": [{"filter": "datum.k == 'row'"}], "mark": {"type": "text", "align": "left", "baseline": "middle"},
       "encoding": {"x": {"field": "x", "type": "quantitative"}, "y": {"field": "y", "type": "quantitative"}, "text": {"field": "t"}}},
      {"data": {"name": "c_txt"}, "transform": [{"filter": "datum.k == 'unc'"}], "mark": {"type": "text", "align": "center", "baseline": "middle"},
       "encoding": {"x": {"field": "x", "type": "quantitative"}, "y": {"field": "y", "type": "quantitative"}, "text": {"field": "t"}}},
      {"data": {"name": "c_txt"}, "transform": [{"filter": "datum.k == 'hdr'"}], "mark": {"type": "text", "align": "left", "baseline": "middle", "fontSize": 12, "color": "#404040"},
       "encoding": {"x": {"field": "x", "type": "quantitative"}, "y": {"field": "y", "type": "quantitative"}, "text": {"field": "t"}}},
      {"data": {"name": "c_txt"}, "transform": [{"filter": "datum.k == 'red'"}], "mark": {"type": "text", "align": "left", "baseline": "middle", "fontSize": 12, "color": "#d40000"},
       "encoding": {"x": {"field": "x", "type": "quantitative"}, "y": {"field": "y", "type": "quantitative"}, "text": {"field": "t"}}},
      {"data": {"name": "c_txt"}, "transform": [{"filter": "datum.k == 'redr'"}], "mark": {"type": "text", "align": "right", "baseline": "middle", "fontSize": 12, "color": "#d40000"},
       "encoding": {"x": {"field": "x", "type": "quantitative"}, "y": {"field": "y", "type": "quantitative"}, "text": {"field": "t"}}},
      {"data": {"name": "c_txt"}, "transform": [{"filter": "datum.k == 'redp'"}], "mark": {"type": "text", "align": "left", "baseline": "middle", "fontSize": 12, "fontStyle": "italic", "color": "#d40000"},
       "encoding": {"x": {"field": "x", "type": "quantitative"}, "y": {"field": "y", "type": "quantitative"}, "text": {"field": "t"}}},
      {"data": {"name": "c_txt"}, "transform": [{"filter": "datum.k == 'letter'"}], "mark": {"type": "text", "align": "center", "baseline": "middle", "fontSize": 19, "fontWeight": "bold", "color": "#000000"},
       "encoding": {"x": {"field": "x", "type": "quantitative"}, "y": {"field": "y", "type": "quantitative"}, "text": {"field": "t"}}}
    ]
  },
  {
    "width": 244, "height": 193,
    "layer": [
      {"data": {"name": "d_frame"}, "transform": [{"filter": "datum.k == 'grid'"}], "mark": {"type": "rule", "color": "#e6e6e6", "strokeWidth": 1},
       "encoding": {
         "x": {"field": "x", "type": "quantitative", "scale": {"domain": [0.5, 5.5], "nice": false, "zero": false, "padding": 0}, "axis": {"values": [1, 2, 3, 4, 5], "labelExpr": "['Uncertainty','Complexity','Reward (prev.)','Action (prev.)','Max goal value'][datum.value - 1]", "labelAngle": -45, "title": null, "grid": false, "labelPadding": 4}},
         "x2": {"field": "x2"},
         "y": {"field": "y", "type": "quantitative", "scale": {"domain": [-0.3, 0.2302], "nice": false, "zero": false, "padding": 0}, "axis": {"values": [-0.3, -0.2, -0.1, 0, 0.1, 0.2], "labels": false, "title": "Effect size (a.u.)", "grid": false, "domain": false, "titlePadding": 42}},
         "y2": {"field": "y2"}}},
      {"data": {"name": "d_frame"}, "transform": [{"filter": "datum.k == 'box'"}], "mark": {"type": "rule", "color": "#6b6b6b", "strokeWidth": 1},
       "encoding": {"x": {"field": "x", "type": "quantitative"}, "x2": {"field": "x2"}, "y": {"field": "y", "type": "quantitative"}, "y2": {"field": "y2"}}},
      {"data": {"name": "d_frame"}, "transform": [{"filter": "datum.k == 'axis'"}], "mark": {"type": "rule", "color": "#262626", "strokeWidth": 1},
       "encoding": {"x": {"field": "x", "type": "quantitative"}, "x2": {"field": "x2"}, "y": {"field": "y", "type": "quantitative"}, "y2": {"field": "y2"}}},
      {"data": {"name": "d_ylab"}, "mark": {"type": "text", "align": "right", "baseline": "middle", "dx": -6},
       "encoding": {"x": {"datum": 0.5, "type": "quantitative"}, "y": {"field": "y", "type": "quantitative"}, "text": {"field": "t"}}},
      {"data": {"name": "d_pts"}, "mark": {"type": "point", "shape": "M-1,-1L1,1M1,-1L-1,1", "filled": false, "stroke": "#7a7a7a", "strokeWidth": 0.8, "size": 49, "opacity": 0.85},
       "encoding": {"x": {"field": "x", "type": "quantitative"}, "y": {"field": "v", "type": "quantitative"}}},
      {"data": {"name": "d_sum"}, "mark": {"type": "rule", "color": "#ff0000", "strokeWidth": 1.5},
       "encoding": {"x": {"field": "x", "type": "quantitative"}, "y": {"field": "lo", "type": "quantitative"}, "y2": {"field": "hi"}}},
      {"data": {"name": "d_sum"}, "mark": {"type": "tick", "orient": "horizontal", "color": "#ff0000", "size": 16, "thickness": 2.5, "opacity": 1},
       "encoding": {"x": {"field": "x", "type": "quantitative"}, "y": {"field": "lo", "type": "quantitative"}}},
      {"data": {"name": "d_sum"}, "mark": {"type": "tick", "orient": "horizontal", "color": "#ff0000", "size": 16, "thickness": 2.5, "opacity": 1},
       "encoding": {"x": {"field": "x", "type": "quantitative"}, "y": {"field": "hi", "type": "quantitative"}}},
      {"data": {"name": "d_sum"}, "mark": {"type": "circle", "color": "#ff0000", "size": 6, "opacity": 1},
       "encoding": {"x": {"field": "x", "type": "quantitative"}, "y": {"field": "m", "type": "quantitative"}}},
      {"data": {"name": "d_txt"}, "transform": [{"filter": "datum.k == 'c'"}], "mark": {"type": "text", "align": "center", "baseline": "middle"},
       "encoding": {"x": {"field": "x", "type": "quantitative"}, "y": {"field": "y", "type": "quantitative"}, "text": {"field": "t"}}},
      {"data": {"name": "d_txt"}, "transform": [{"filter": "datum.k == 'letter'"}], "mark": {"type": "text", "align": "center", "baseline": "middle", "fontSize": 19, "fontWeight": "bold", "color": "#000000"},
       "encoding": {"x": {"field": "x", "type": "quantitative"}, "y": {"field": "y", "type": "quantitative"}, "text": {"field": "t"}}}
    ]
  }
]
}
